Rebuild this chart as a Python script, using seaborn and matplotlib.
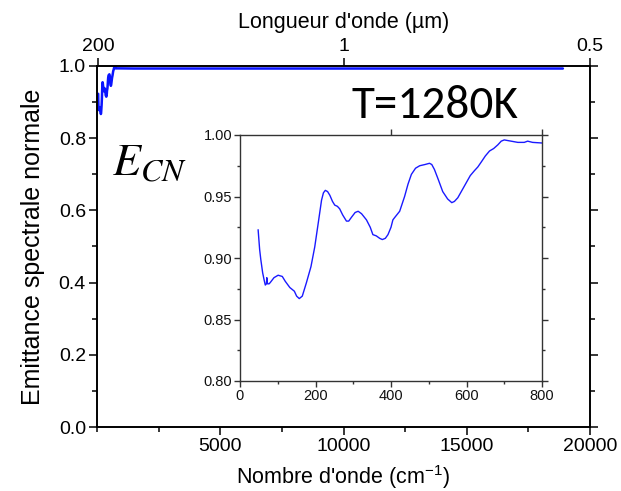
import matplotlib
matplotlib.use("Agg")
import matplotlib.pyplot as plt
from matplotlib.ticker import MultipleLocator, FixedLocator, FormatStrFormatter
import pandas as pd
import seaborn as sns

# Normal spectral emittance at 1280 K, far-infrared part (cm^-1)
wavenumber_ir = [48, 52, 55, 60, 64, 67, 70, 71, 73, 77, 80, 90, 101, 112, 120, 132,
                 144, 150, 157, 165, 176, 188, 198, 208, 216, 221, 226, 232, 238, 245,
                 251, 258, 264, 272, 282, 288, 295, 305, 313, 322, 335, 345, 352, 361,
                 370, 377, 385, 392, 400, 405, 410, 423, 436, 445, 454, 465, 476, 490,
                 502, 508, 515, 525, 537, 550, 561, 568, 577, 588, 599, 610, 621, 630,
                 639, 650, 661, 672, 683, 692, 700, 718, 736, 753, 762, 775, 800]
emittance_ir = [0.923, 0.907, 0.899, 0.888, 0.882, 0.878, 0.879, 0.884, 0.879, 0.879,
                0.880, 0.884, 0.886, 0.885, 0.881, 0.876, 0.873, 0.869, 0.867, 0.869,
                0.880, 0.893, 0.909, 0.930, 0.947, 0.953, 0.955, 0.954, 0.951, 0.946,
                0.943, 0.942, 0.940, 0.935, 0.930, 0.930, 0.933, 0.937, 0.938, 0.936,
                0.931, 0.925, 0.919, 0.918, 0.916, 0.915, 0.916, 0.919, 0.925, 0.931,
                0.933, 0.938, 0.950, 0.960, 0.968, 0.973, 0.975, 0.976, 0.977, 0.976,
                0.972, 0.964, 0.954, 0.948, 0.945, 0.946, 0.949, 0.955, 0.961, 0.967,
                0.971, 0.974, 0.978, 0.983, 0.987, 0.989, 0.992, 0.995, 0.996, 0.995,
                0.994, 0.994, 0.995, 0.994, 0.9935]

# Flat plateau beyond the far infrared, up to the visible
wavenumber_plateau = [1500, 5000, 10000, 15000, 18900]
emittance_plateau = [0.993, 0.993, 0.993, 0.993, 0.993]

# Upper axis: wavelength labels placed at their wavenumbers
wavelength_ticks_cm = [50, 10000, 20000]
wavelength_labels = ["200", "1", "0.5"]

full = pd.DataFrame({
    "sigma": wavenumber_ir + wavenumber_plateau,
    "eps": emittance_ir + emittance_plateau,
})
inset = pd.DataFrame({"sigma": wavenumber_ir, "eps": emittance_ir})

sns.set_style("ticks")
plt.rcParams["font.family"] = ["Liberation Sans", "DejaVu Sans"]
plt.rcParams["mathtext.fontset"] = "stix"
plt.rcParams["text.color"] = "black"
plt.rcParams["axes.labelcolor"] = "black"
plt.rcParams["xtick.color"] = "black"
plt.rcParams["ytick.color"] = "black"

W, H = 621, 491
fig = plt.figure(figsize=(W / 100, H / 100), dpi=100)


def frac(x0, y0, x1, y1):
    return [x0 / W, 1 - y1 / H, (x1 - x0) / W, (y1 - y0) / H]


# Main panel: full spectrum versus wavenumber
ax = fig.add_axes(frac(97, 66, 590, 427))
sns.lineplot(data=full, x="sigma", y="eps", ax=ax, color="#0a14ff", lw=1.8,
             estimator=None, sort=False)
ax.set_xlim(0, 20000)
ax.set_ylim(0, 1.0)
ax.xaxis.set_major_locator(FixedLocator([5000, 10000, 15000, 20000]))
ax.xaxis.set_minor_locator(FixedLocator([0, 2500, 7500, 12500, 17500]))
ax.yaxis.set_major_locator(MultipleLocator(0.2))
ax.yaxis.set_minor_locator(MultipleLocator(0.1))
ax.yaxis.set_major_formatter(FormatStrFormatter("%.1f"))
ax.tick_params(which="both", direction="out", right=True, color="black", width=1.1)
ax.tick_params(which="major", length=6, labelsize=14, pad=2, labelcolor="black")
ax.tick_params(which="minor", length=3.5)
ax.tick_params(axis="x", which="minor", top=False)
for s in ax.spines.values():
    s.set_color("black")
    s.set_linewidth(1.2)
ax.set_xlabel("Nombre d'onde (cm$^{\\mathregular{-1}}$)", fontsize=15.5, labelpad=6)
ax.set_ylabel("Emittance spectrale normale", fontsize=18, labelpad=10)

# Upper axis in wavelength
top = ax.twiny()
top.set_xlim(ax.get_xlim())
top.xaxis.set_major_locator(FixedLocator(wavelength_ticks_cm))
top.set_xticklabels(wavelength_labels)
top.tick_params(axis="x", direction="out", length=6, width=1.1, labelsize=14, pad=2,
                color="black", labelcolor="black")
top.xaxis.set_minor_locator(FixedLocator([]))
top.set_xlabel("Longueur d'onde (\u00b5m)", fontsize=15.5, labelpad=7)
for s in top.spines.values():
    s.set_color("black")
    s.set_linewidth(1.2)

fig.text(352 / W, 1 - 118 / H, "T=1280K", family="Carlito", fontsize=34,
         ha="left", va="baseline")
fig.text(112 / W, 1 - 175 / H, "$E_{CN}$", fontsize=33, ha="left", va="baseline")

# Inset: zoom on the far infrared
ins = fig.add_axes(frac(240, 135, 542, 381))
sns.lineplot(data=inset, x="sigma", y="eps", ax=ins, color="#1a1aff", lw=1.0,
             estimator=None, sort=False)
ins.set_xlim(0, 800)
ins.set_ylim(0.80, 1.00)
ins.xaxis.set_major_locator(MultipleLocator(200))
ins.xaxis.set_minor_locator(MultipleLocator(100))
ins.yaxis.set_major_locator(MultipleLocator(0.05))
ins.yaxis.set_minor_locator(MultipleLocator(0.025))
ins.yaxis.set_major_formatter(FormatStrFormatter("%.2f"))
ins.tick_params(which="both", direction="out", color="#333333", width=1.0)
ins.tick_params(which="major", length=4, labelsize=10.5, pad=1.5, labelcolor="#111111")
ins.tick_params(which="minor", length=2.5)
ins.tick_params(axis="y", which="both", right=True, labelright=False)
ins.set_xlabel("")
ins.set_ylabel("")
for s in ins.spines.values():
    s.set_color("#333333")
    s.set_linewidth(1.0)
ins_top = ins.secondary_xaxis("top")
ins_top.set_xticks([400, 800])
ins_top.set_xticklabels([])
ins_top.tick_params(direction="out", length=4, color="#333333", width=1.0)
ins_top.spines["top"].set_visible(False)

fig.savefig("out.png", dpi=100)
